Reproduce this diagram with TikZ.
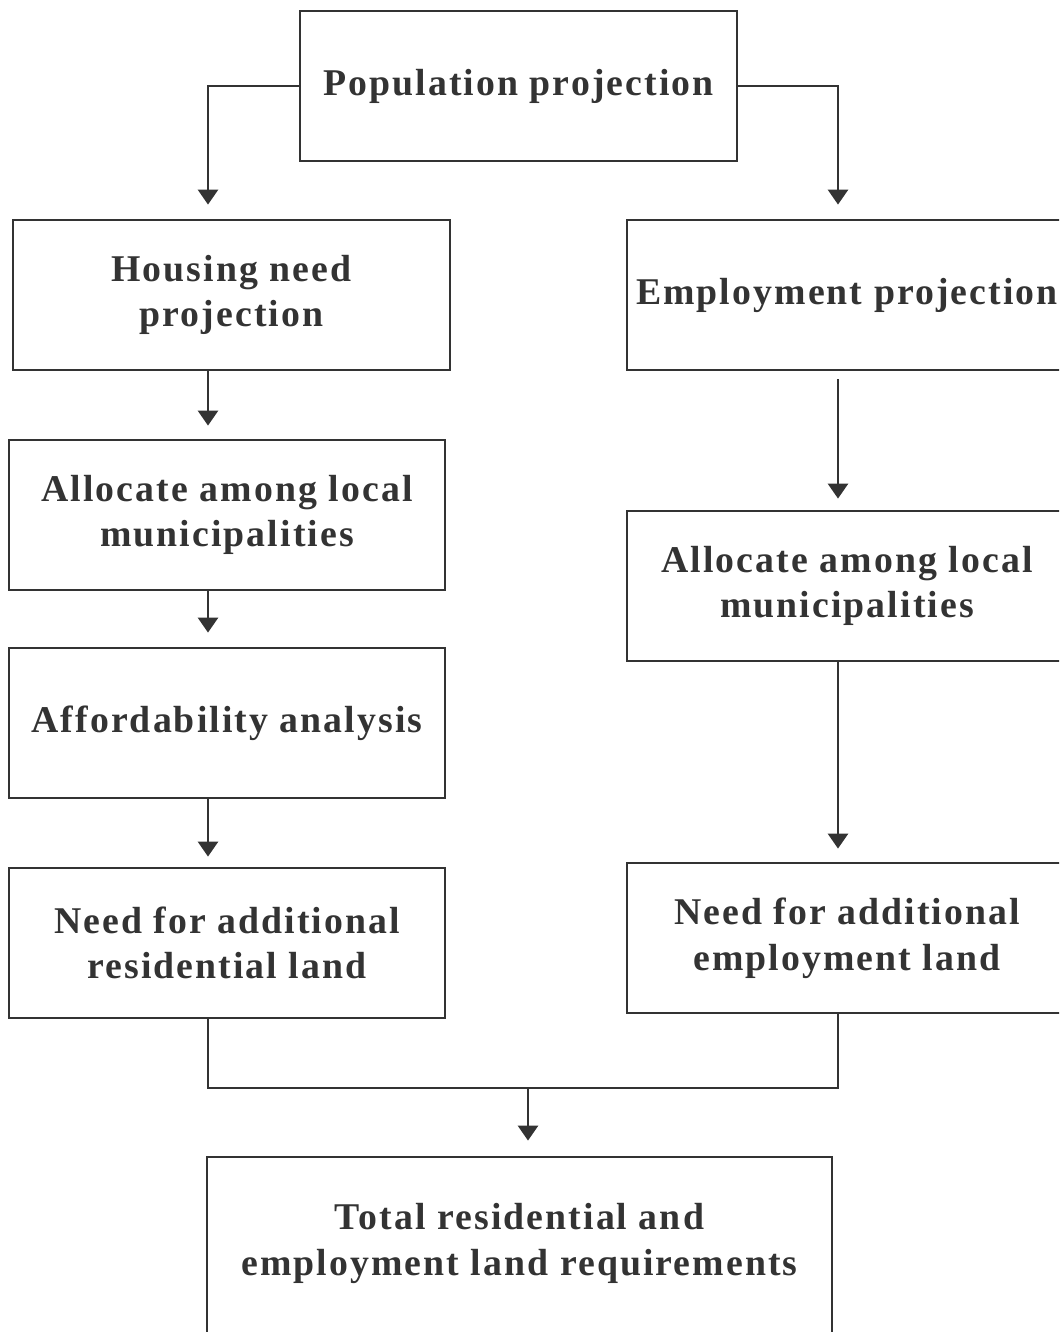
\documentclass[tikz,border=0pt]{standalone}
\usepackage{fontspec}
\newfontfamily\boxfont[LetterSpace=5.5]{Liberation Serif}
\usepackage{tikz}
\usetikzlibrary{arrows.meta,positioning}

\definecolor{inkgray}{HTML}{333333}

\begin{document}
\begin{tikzpicture}[
  x=0.02cm, y=-0.02cm,
  box/.style={rectangle, draw=inkgray, line width=1.6pt, minimum width=437*0.02cm, minimum height=150*0.02cm, align=center, text=inkgray, font=\boxfont\fontsize{21.5}{26}\selectfont\bfseries},
  arrow/.style={-{Triangle[width=0.4cm, length=0.3cm]}, draw=inkgray, line width=1.6pt},
  link/.style={draw=inkgray, line width=1.6pt}
]
  \useasboundingbox (0,0) rectangle (1059,1332);
  \begin{scope}
  \clip (0,0) rectangle (1059,1332);
  \node[box] (pop) at (518.5,86) {Population projection};
  \node[box] (hn) at (231.5,295) {Housing need\\projection};
  \node[box, minimum width=440*0.02cm] (emp) at (847,295) {Employment projection};
  \node[box, minimum width=436*0.02cm] (al1) at (227,515) {Allocate among local\\municipalities};
  \node[box, minimum width=436*0.02cm] (aff) at (227,723) {Affordability analysis};
  \node[box, minimum width=436*0.02cm] (nr) at (227,943) {Need for additional\\residential land};
  \node[box, minimum width=440*0.02cm] (al2) at (847,586) {Allocate among local\\municipalities};
  \node[box, minimum width=440*0.02cm] (ne) at (847,938) {Need for additional\\employment land};
  \node[box, minimum width=625*0.02cm, minimum height=190*0.02cm, text depth=0.5cm] (tot) at (519.5,1252) {Total residential and\\employment land requirements};
  \end{scope}
  % column lines and joins
  \coordinate (colL) at (208,0);
  \coordinate (colR) at (838,0);
  \coordinate (join) at (528,1088);
  \draw[arrow, shorten >=14*0.02cm] (pop.west) -| (hn.north -| colL);
  \draw[arrow, shorten >=14*0.02cm] (pop.east) -| (emp.north -| colR);
  \draw[arrow, shorten >=13*0.02cm] (hn.south -| colL) -- (al1.north -| colL);
  \draw[arrow, shorten >=14*0.02cm] (al1.south -| colL) -- (aff.north -| colL);
  \draw[arrow, shorten >=10*0.02cm] (aff.south -| colL) -- (nr.north -| colL);
  \draw[arrow, shorten <=8*0.02cm, shorten >=11*0.02cm] (emp.south -| colR) -- (al2.north -| colR);
  \draw[arrow, shorten >=13*0.02cm] (al2.south -| colR) -- (ne.north -| colR);
  \draw[link] (nr.south -| colL) |- (join) -| (ne.south -| colR);
  \draw[arrow, shorten >=15*0.02cm] (join) -- (tot.north -| join);
\end{tikzpicture}
\end{document}
